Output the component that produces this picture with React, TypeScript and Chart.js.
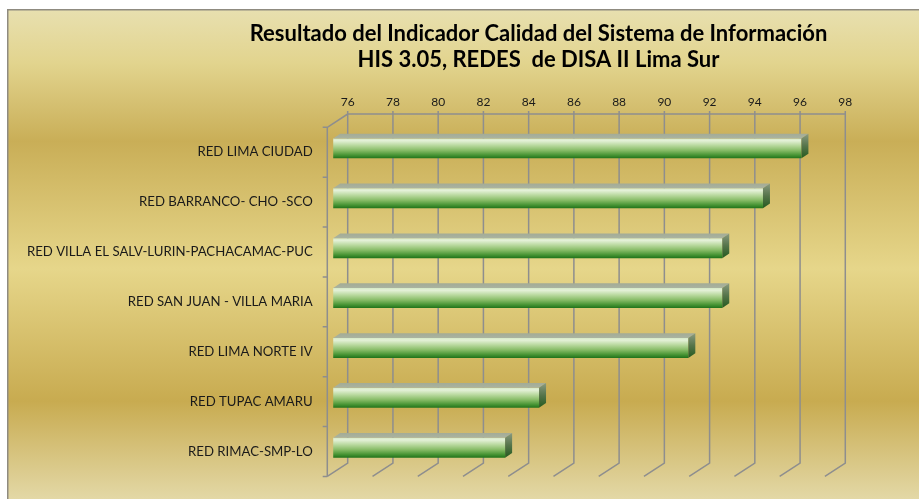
import React, { useEffect, useRef } from "react";
import { Chart, registerables } from "chart.js";

Chart.register(...registerables);

// ---------- data ----------
const titleLines = [
  "Resultado del Indicador Calidad del Sistema de Información",
  "HIS 3.05, REDES  de DISA II Lima Sur",
];
const categories = [
  "RED LIMA CIUDAD",
  "RED BARRANCO- CHO -SCO",
  "RED VILLA EL SALV-LURIN-PACHACAMAC-PUC",
  "RED SAN JUAN - VILLA MARIA",
  "RED LIMA NORTE IV",
  "RED TUPAC AMARU",
  "RED RIMAC-SMP-LO",
];
const values = [96.7, 95.0, 93.2, 93.2, 91.7, 85.1, 83.6];
const axisMin = 76;
const axisMax = 98;
const axisStep = 2;

// ---------- geometry / style ----------
const W = 919;
const H = 499;
const AREA = { left: 327.3, right: 824.9, top: 127.3, bottom: 482 };
const DEPTH_X = 20.4;
const DEPTH_Y = 13.3;
const BAR_POS = 0.29;
const BAR_DX = 7;
const BAR_DY = 4.7;
const GRID = "#8e8e8e";
const FONT = "Lato, 'Open Sans', sans-serif";

const backgroundPlugin = {
  id: "bg",
  beforeDraw(chart: any) {
    const { ctx } = chart;
    ctx.save();
    ctx.fillStyle = "#ffffff";
    ctx.fillRect(0, 0, W, H);
    const g = ctx.createLinearGradient(0, 9, 0, H);
    g.addColorStop(0, "#e8e0b0");
    g.addColorStop(0.11, "#e2d48e");
    g.addColorStop(0.27, "#c9ae57");
    g.addColorStop(0.53, "#e6d68a");
    g.addColorStop(0.8, "#c8ab50");
    g.addColorStop(1, "#e3d8a6");
    ctx.fillStyle = g;
    ctx.fillRect(7, 9, W - 7, H - 9);
    ctx.strokeStyle = "#8f8b80";
    ctx.lineWidth = 1.5;
    ctx.beginPath();
    ctx.moveTo(7.75, H);
    ctx.lineTo(7.75, 9.75);
    ctx.lineTo(W, 9.75);
    ctx.stroke();
    ctx.restore();
  },
  afterDraw(chart: any) {
    const { ctx } = chart;
    ctx.save();
    ctx.fillStyle = "#000000";
    ctx.font = `bold 22px ${FONT}`;
    ctx.textAlign = "center";
    ctx.textBaseline = "middle";
    ctx.fillText(titleLines[0], 538.5, 34);
    ctx.fillText(titleLines[1], 538.5, 60);
    ctx.restore();
  },
};

const framePlugin = {
  id: "frame3d",
  beforeDatasetsDraw(chart: any) {
    const { ctx, chartArea, scales } = chart;
    const xs = scales.x;
    const ys = scales.y;
    const top = chartArea.top;
    const bottom = chartArea.bottom;
    ctx.save();
    ctx.strokeStyle = GRID;
    ctx.lineWidth = 1.5;
    ctx.beginPath();
    for (let v = axisMin; v <= axisMax + 1e-9; v += axisStep) {
      const px = xs.getPixelForValue(v);
      ctx.moveTo(px + DEPTH_X, top - DEPTH_Y - 3);
      ctx.lineTo(px + DEPTH_X, bottom - DEPTH_Y);
      ctx.lineTo(px, bottom);
    }
    const x0 = xs.getPixelForValue(axisMin);
    const x1 = xs.getPixelForValue(axisMax);
    ctx.moveTo(x0 + DEPTH_X, top - DEPTH_Y);
    ctx.lineTo(x1 + DEPTH_X, top - DEPTH_Y);
    ctx.moveTo(x0 + DEPTH_X, top - DEPTH_Y);
    ctx.lineTo(x0, top);
    ctx.lineTo(x0, bottom);
    const step = ys.getPixelForValue(1) - ys.getPixelForValue(0);
    for (let i = 0; i <= categories.length; i++) {
      const yb = ys.getPixelForValue(0) - step / 2 + i * step;
      ctx.moveTo(x0 - 4.6, yb);
      ctx.lineTo(x0, yb);
    }
    ctx.stroke();
    ctx.restore();

    ctx.save();
    ctx.translate(DEPTH_X * BAR_POS, -DEPTH_Y * BAR_POS);
  },
  afterDatasetsDraw(chart: any) {
    const { ctx } = chart;
    const meta = chart.getDatasetMeta(0);
    meta.data.forEach((el: any) => {
      const { x, y, base, height } = el.getProps(["x", "y", "base", "height"], true);
      const yTop = y - height / 2;
      const yBot = y + height / 2;
      const tg = ctx.createLinearGradient(0, yTop - BAR_DY, 0, yTop);
      tg.addColorStop(0, "#a3ab96");
      tg.addColorStop(1, "#aab4a0");
      ctx.fillStyle = tg;
      ctx.beginPath();
      ctx.moveTo(base, yTop);
      ctx.lineTo(x, yTop);
      ctx.lineTo(x + BAR_DX, yTop - BAR_DY);
      ctx.lineTo(base + BAR_DX, yTop - BAR_DY);
      ctx.closePath();
      ctx.fill();
      const sg = ctx.createLinearGradient(0, yTop - BAR_DY, 0, yBot);
      sg.addColorStop(0, "#8a9a80");
      sg.addColorStop(0.5, "#55744a");
      sg.addColorStop(1, "#245a1e");
      ctx.fillStyle = sg;
      ctx.beginPath();
      ctx.moveTo(x, yTop);
      ctx.lineTo(x + BAR_DX, yTop - BAR_DY);
      ctx.lineTo(x + BAR_DX, yBot - BAR_DY);
      ctx.lineTo(x, yBot);
      ctx.closePath();
      ctx.fill();
    });
    ctx.restore();
  },
};

function barFill(context: any) {
  const chart = context.chart;
  if (!chart.chartArea || context.dataIndex === undefined) return "#6aa64a";
  const yc = chart.scales.y.getPixelForValue(context.dataIndex);
  const g = chart.ctx.createLinearGradient(0, yc - 10.2, 0, yc + 10.2);
  g.addColorStop(0, "#d3e8c3");
  g.addColorStop(0.12, "#e4f1d8");
  g.addColorStop(0.35, "#b9d99f");
  g.addColorStop(0.6, "#86bb66");
  g.addColorStop(0.82, "#4a9636");
  g.addColorStop(1, "#1d7118");
  return g;
}

export default function App() {
  const ref = useRef<HTMLCanvasElement | null>(null);
  useEffect(() => {
    if (!ref.current) return;
    const chart = new Chart(ref.current, {
      type: "bar",
      data: {
        labels: categories,
        datasets: [
          {
            data: values,
            base: axisMin,
            backgroundColor: barFill,
            borderWidth: 0,
            barPercentage: 0.4,
            categoryPercentage: 1,
            clip: false,
          } as any,
        ],
      },
      options: {
        indexAxis: "y",
        responsive: false,
        animation: false,
        devicePixelRatio: 1,
        layout: {
          padding: { left: 0, top: 0, right: W - AREA.right, bottom: H - AREA.bottom },
        },
        plugins: {
          legend: { display: false },
          tooltip: { enabled: false },
          title: { display: false },
        },
        scales: {
          x: {
            type: "linear",
            position: "top",
            min: axisMin,
            max: axisMax,
            grid: { display: false, drawTicks: false },
            border: { display: false },
            ticks: {
              stepSize: axisStep,
              padding: 18,
              labelOffset: DEPTH_X,
              color: "#1a1a1a",
              font: { family: FONT, size: 12 },
              maxRotation: 0,
              autoSkip: false,
            },
            afterFit(scale: any) {
              scale.height = AREA.top;
            },
          },
          y: {
            type: "category",
            grid: { display: false, drawTicks: false },
            border: { display: false },
            ticks: {
              padding: 14.6,
              color: "#1a1a1a",
              font: { family: FONT, size: 13.2 },
              autoSkip: false,
            },
            afterFit(scale: any) {
              scale.width = AREA.left;
            },
          },
        },
      } as any,
      plugins: [backgroundPlugin, framePlugin],
    });
    return () => chart.destroy();
  }, []);
  return (
    <div style={{ position: "fixed", left: 0, top: 0, width: W, height: H, background: "#fff" }}>
      <canvas ref={ref} width={W} height={H} style={{ display: "block", width: W, height: H }} />
    </div>
  );
}
